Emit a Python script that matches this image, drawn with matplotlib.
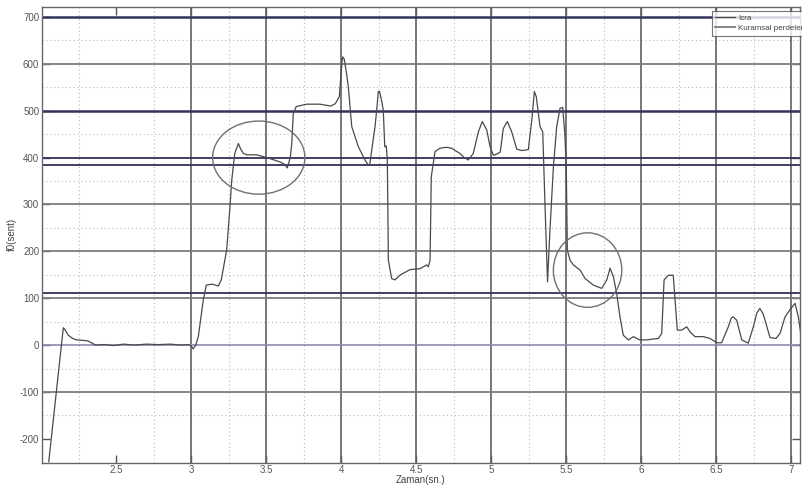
import matplotlib
matplotlib.use("Agg")
import matplotlib.pyplot as plt
from matplotlib.patches import Ellipse

plt.rcParams['font.family'] = ['Liberation Sans', 'DejaVu Sans']
plt.rcParams['axes.unicode_minus'] = False

# f0 curve (Icra)
t = [2.05, 2.147, 2.16, 2.18, 2.21, 2.236, 2.28, 2.31, 2.34, 2.36, 2.42, 2.48,
     2.55, 2.62, 2.70, 2.78, 2.86, 2.93, 2.98, 3.0, 3.013, 3.03, 3.047, 3.065,
     3.08, 3.10, 3.14, 3.18, 3.20, 3.236, 3.258, 3.27, 3.29, 3.314, 3.33, 3.347,
     3.37, 3.436, 3.503, 3.59, 3.625, 3.64, 3.66, 3.67, 3.68, 3.70, 3.77, 3.858,
     3.93, 3.96, 3.987, 4.005, 4.01, 4.02, 4.035, 4.047, 4.07, 4.114, 4.158,
     4.18, 4.19, 4.225, 4.236, 4.247, 4.255, 4.27, 4.28, 4.29, 4.30, 4.307,
     4.314, 4.336, 4.358, 4.39, 4.458, 4.525, 4.57, 4.58, 4.592, 4.60, 4.625,
     4.658, 4.70, 4.736, 4.79, 4.82, 4.847, 4.88, 4.914, 4.94, 4.97, 4.992,
     5.014, 5.04, 5.06, 5.08, 5.107, 5.136, 5.17, 5.203, 5.247, 5.27, 5.287,
     5.30, 5.325, 5.343, 5.358, 5.375, 5.39, 5.414, 5.436, 5.458, 5.476, 5.49,
     5.50, 5.507, 5.525, 5.547, 5.592, 5.625, 5.68, 5.736, 5.77, 5.792, 5.814,
     5.836, 5.858, 5.88, 5.914, 5.947, 5.99, 6.036, 6.08, 6.114, 6.136, 6.152,
     6.18, 6.213, 6.225, 6.24, 6.27, 6.303, 6.325, 6.358, 6.414, 6.458, 6.503,
     6.536, 6.58, 6.60, 6.613, 6.636, 6.67, 6.713, 6.747, 6.77, 6.79, 6.81,
     6.825, 6.858, 6.898, 6.925, 6.958, 6.99, 7.025, 7.047, 7.06, 7.07]
f0 = [-249, 37, 32, 21, 14, 11, 10, 9, 4, 0, 1, -1,
      2, 0, 2, 1, 2, 0, 1, -2, -8, 0, 18, 60,
      96, 128, 130, 126, 139, 203, 295, 352, 409, 430, 418, 409,
      406, 406, 400, 391, 385, 378, 400, 430, 494, 509, 514, 514,
      510, 515, 530, 605, 615, 610, 580, 551, 466, 423, 395,
      384, 386, 466, 501, 541, 541, 520, 501, 423, 425, 395,
      181, 142, 139, 149, 161, 163, 171, 167, 181, 359, 413,
      420, 422, 420, 409, 400, 395, 409, 455, 477, 459, 423,
      405, 408, 412, 462, 477, 455, 418, 415, 417, 480, 541,
      530, 466, 455, 300, 135, 238, 380, 466, 505, 507, 452,
      380, 203, 181, 171, 160, 142, 128, 121, 139, 164, 146,
      110, 60, 21, 11, 18, 11, 11, 13, 14, 25, 139,
      149, 149, 96, 32, 32, 39, 28, 18, 18, 14, 5,
      5, 39, 58, 60, 53, 11, 4, 39, 68, 78, 68,
      53, 16, 14, 25, 60, 75, 89, 60, 32, 0]

# horizontal reference lines
theory_lines = [700, 500, 400, 384, 112]   # dark blue
gray_lines = [600, 300, 200, 100, -100]
zero_line = [0]
# vertical marker lines (sn.)
vlines = [3.0, 3.5, 4.0, 4.5, 5.0, 5.5, 6.0, 6.5, 7.0]
# dotted grid
xminor = [2.25, 2.75, 3.25, 3.75, 4.25, 4.75, 5.25, 5.75, 6.25, 6.75]
yminor = [-150, -50, 50, 150, 250, 350, 450, 550, 650]

xticks = [2.5, 3, 3.5, 4, 4.5, 5, 5.5, 6, 6.5, 7]
xticklabels = ['2.5', '3', '3.5', '4', '4.5', '5', '5.5', '6', '6.5', '7']
yticks = [-200, -100, 0, 100, 200, 300, 400, 500, 600, 700]

fig = plt.figure(figsize=(8.03, 4.86), dpi=100)
ax = fig.add_axes([42 / 803, 1 - 462.7 / 486, 758 / 803, 456 / 486])

for x in xminor:
    ax.axvline(x, color='#bbbbbb', lw=0.8, ls=(0, (1, 2.5)), zorder=1)
for y in yminor:
    ax.axhline(y, color='#bbbbbb', lw=0.8, ls=(0, (1, 2.5)), zorder=1)

for x in vlines:
    ax.axvline(x, color='#606060', lw=1.2, zorder=2)
for i, y in enumerate(gray_lines):
    ax.axhline(y, color='#7c7c7c', lw=1.3, zorder=2,
               label='Kuramsal perdeler' if i == 0 else None)
for y in theory_lines:
    lw = 1.8 if y in (700, 500) else 1.3
    ax.axhline(y, color='#32325c', lw=lw, zorder=2)
for y in zero_line:
    ax.axhline(y, color='#8a8ab0', lw=1.2, zorder=2)

ax.plot(t, f0, color='#4a4a4a', lw=0.9, zorder=4, label='Icra')

# circled regions
ax.add_patch(Ellipse((3.45, 400), 0.615, 156, fill=False, edgecolor='#707070', lw=1.0, zorder=5))
ax.add_patch(Ellipse((5.642, 160), 0.456, 159, fill=False, edgecolor='#707070', lw=1.0, zorder=5))

ax.set_xlim(2.005, 7.058)
ax.set_ylim(-251, 722)
ax.set_xticks(xticks)
ax.set_xticklabels(xticklabels)
ax.set_yticks(yticks)
ax.tick_params(direction='in', length=6, width=1, colors='#555555', labelsize=7,
               top=True, right=True)
ax.tick_params(axis='x', pad=2)
ax.tick_params(axis='y', pad=2)
for s in ax.spines.values():
    s.set_color('#666666')
    s.set_linewidth(1)

ax.set_xlabel('Zaman(sn.)', fontsize=7, color='#444444', labelpad=0)
ax.set_ylabel('f0(sent)', fontsize=7, color='#444444', labelpad=2)

h, l = ax.get_legend_handles_labels()
order = [l.index('Icra'), l.index('Kuramsal perdeler')]
leg = ax.legend([h[i] for i in order], [l[i] for i in order],
                loc='upper left', bbox_to_anchor=(0.884, 0.9906), borderaxespad=0,
                fontsize=5.8, frameon=True, fancybox=False, handlelength=2.4,
                handletextpad=0.4, labelspacing=0.35, borderpad=0.4)
leg.get_frame().set_edgecolor('#555555')
leg.get_frame().set_linewidth(0.8)
for txt in leg.get_texts():
    txt.set_color('#444444')
leg.set_zorder(10)

fig.savefig('out.png', dpi=100)
